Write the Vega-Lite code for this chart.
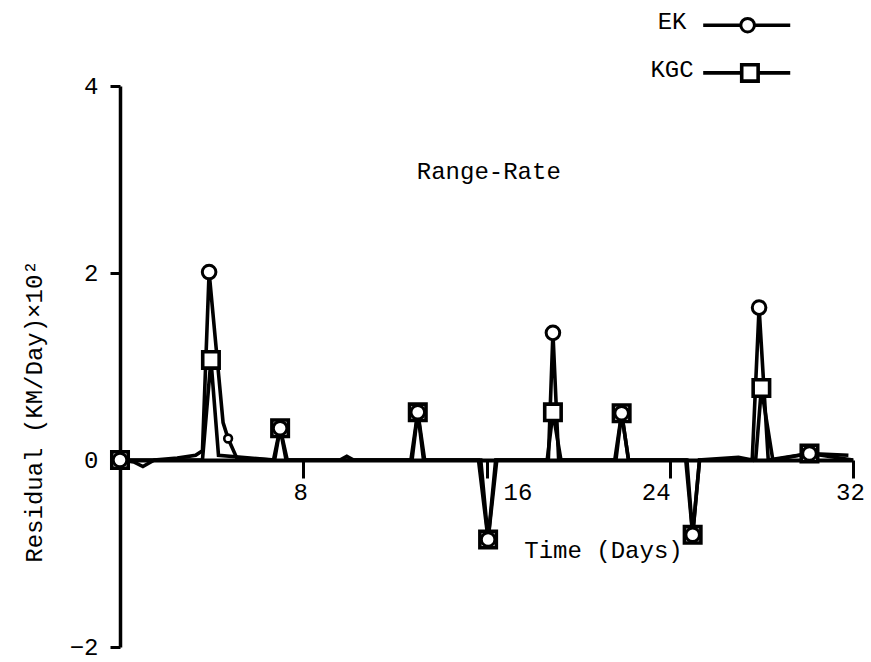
{
  "$schema": "https://vega.github.io/schema/vega-lite/v6.json",
  "width": 733,
  "height": 561,
  "autosize": {"type": "none"},
  "padding": {"left": 120, "top": 86, "right": 18, "bottom": 15},
  "background": "white",
  "config": {
    "font": "Liberation Mono",
    "view": {"stroke": null},
    "axis": {"grid": false, "domainColor": "black", "tickColor": "black", "labelColor": "black", "titleColor": "black", "labelFont": "Liberation Mono", "titleFont": "Liberation Mono", "labelFontSize": 24, "titleFontSize": 24, "titleFontWeight": "normal"}
  },
  "datasets": {
    "lines": [
      {"series": "EK", "day": 0, "residual": 0},
      {"series": "EK", "day": 0.6, "residual": -0.02},
      {"series": "EK", "day": 1.0, "residual": -0.07},
      {"series": "EK", "day": 1.5, "residual": 0},
      {"series": "EK", "day": 2.5, "residual": 0.02},
      {"series": "EK", "day": 3.3, "residual": 0.05},
      {"series": "EK", "day": 3.6, "residual": 0.1},
      {"series": "EK", "day": 3.89, "residual": 2.01},
      {"series": "EK", "day": 4.5, "residual": 0.4},
      {"series": "EK", "day": 4.72, "residual": 0.23},
      {"series": "EK", "day": 5.1, "residual": 0.02},
      {"series": "EK", "day": 6.7, "residual": 0},
      {"series": "EK", "day": 6.99, "residual": 0.34},
      {"series": "EK", "day": 7.3, "residual": 0},
      {"series": "EK", "day": 9.6, "residual": 0},
      {"series": "EK", "day": 9.9, "residual": 0.04},
      {"series": "EK", "day": 10.2, "residual": 0},
      {"series": "EK", "day": 12.7, "residual": 0},
      {"series": "EK", "day": 13.0, "residual": 0.51},
      {"series": "EK", "day": 13.3, "residual": 0},
      {"series": "EK", "day": 15.75, "residual": 0},
      {"series": "EK", "day": 16.07, "residual": -0.85},
      {"series": "EK", "day": 16.4, "residual": 0},
      {"series": "EK", "day": 18.7, "residual": 0},
      {"series": "EK", "day": 18.9, "residual": 1.36},
      {"series": "EK", "day": 19.15, "residual": 0},
      {"series": "EK", "day": 21.65, "residual": 0},
      {"series": "EK", "day": 21.9, "residual": 0.5},
      {"series": "EK", "day": 22.2, "residual": 0},
      {"series": "EK", "day": 24.75, "residual": 0},
      {"series": "EK", "day": 25.0, "residual": -0.8},
      {"series": "EK", "day": 25.3, "residual": 0},
      {"series": "EK", "day": 27.0, "residual": 0.03},
      {"series": "EK", "day": 27.6, "residual": 0},
      {"series": "EK", "day": 27.9, "residual": 1.63},
      {"series": "EK", "day": 28.3, "residual": 0},
      {"series": "EK", "day": 30.1, "residual": 0.07},
      {"series": "EK", "day": 31.8, "residual": 0.05},
      {"series": "KGC", "day": 0, "residual": 0},
      {"series": "KGC", "day": 2.0, "residual": 0},
      {"series": "KGC", "day": 3.6, "residual": 0},
      {"series": "KGC", "day": 3.97, "residual": 1.07},
      {"series": "KGC", "day": 4.3, "residual": 0.05},
      {"series": "KGC", "day": 6.75, "residual": 0},
      {"series": "KGC", "day": 6.99, "residual": 0.34},
      {"series": "KGC", "day": 7.25, "residual": 0},
      {"series": "KGC", "day": 12.75, "residual": 0},
      {"series": "KGC", "day": 13.0, "residual": 0.51},
      {"series": "KGC", "day": 13.25, "residual": 0},
      {"series": "KGC", "day": 15.65, "residual": 0},
      {"series": "KGC", "day": 16.07, "residual": -0.85},
      {"series": "KGC", "day": 16.45, "residual": 0},
      {"series": "KGC", "day": 18.65, "residual": 0},
      {"series": "KGC", "day": 18.9, "residual": 0.51},
      {"series": "KGC", "day": 19.25, "residual": 0},
      {"series": "KGC", "day": 21.6, "residual": 0},
      {"series": "KGC", "day": 21.9, "residual": 0.5},
      {"series": "KGC", "day": 22.2, "residual": 0},
      {"series": "KGC", "day": 24.7, "residual": 0},
      {"series": "KGC", "day": 25.0, "residual": -0.8},
      {"series": "KGC", "day": 25.3, "residual": 0},
      {"series": "KGC", "day": 27.75, "residual": 0},
      {"series": "KGC", "day": 28.0, "residual": 0.77},
      {"series": "KGC", "day": 28.5, "residual": 0},
      {"series": "KGC", "day": 30.1, "residual": 0.07},
      {"series": "KGC", "day": 32, "residual": 0},
      {"series": "EK legend", "day": 25.46, "residual": 4.65},
      {"series": "EK legend", "day": 29.26, "residual": 4.65},
      {"series": "KGC legend", "day": 25.46, "residual": 4.14},
      {"series": "KGC legend", "day": 29.26, "residual": 4.14}
    ],
    "markers": [
      {"series": "KGC", "day": 0, "residual": 0},
      {"series": "KGC", "day": 3.97, "residual": 1.07},
      {"series": "KGC", "day": 6.99, "residual": 0.34},
      {"series": "KGC", "day": 13.0, "residual": 0.51},
      {"series": "KGC", "day": 16.07, "residual": -0.85},
      {"series": "KGC", "day": 18.9, "residual": 0.51},
      {"series": "KGC", "day": 21.9, "residual": 0.5},
      {"series": "KGC", "day": 25.0, "residual": -0.8},
      {"series": "KGC", "day": 28.0, "residual": 0.77},
      {"series": "KGC", "day": 30.1, "residual": 0.07},
      {"series": "KGC", "day": 27.5, "residual": 4.14},
      {"series": "EK", "day": 0, "residual": 0},
      {"series": "EK", "day": 3.89, "residual": 2.01},
      {"series": "EK", "day": 6.99, "residual": 0.34},
      {"series": "EK", "day": 13.0, "residual": 0.51},
      {"series": "EK", "day": 16.07, "residual": -0.85},
      {"series": "EK", "day": 18.9, "residual": 1.36},
      {"series": "EK", "day": 21.9, "residual": 0.5},
      {"series": "EK", "day": 25.0, "residual": -0.8},
      {"series": "EK", "day": 27.9, "residual": 1.63},
      {"series": "EK", "day": 30.1, "residual": 0.07},
      {"series": "EK", "day": 27.4, "residual": 4.65}
    ],
    "minor": [
      {"series": "EK", "day": 4.72, "residual": 0.23}
    ],
    "notes": [
      {"text": "Range-Rate", "day": 16.1, "residual": 3.08, "anchor": "center"},
      {"text": "EK", "day": 24.1, "residual": 4.68, "anchor": "right"},
      {"text": "KGC", "day": 24.1, "residual": 4.17, "anchor": "right"}
    ]
  },
  "layer": [
    {
      "data": {"name": "lines"},
      "mark": {"type": "line", "color": "black", "strokeWidth": 3.6, "interpolate": "linear"},
      "encoding": {
        "x": {"field": "day", "type": "quantitative", "scale": {"domain": [0, 32], "nice": false, "zero": false},
          "axis": {"orient": "bottom", "offset": -187, "values": [8, 16, 24, 32], "format": "d", "tickSize": 18, "tickWidth": 3, "domainWidth": 4, "labelPadding": 2, "labelFlush": false,
            "labelOffset": {"condition": [{"test": "datum.value === 16", "value": 31}, {"test": "datum.value === 24", "value": -14}], "value": -3},
            "title": "Time (Days)", "titleX": 483, "titleY": 90, "titleAlign": "center", "titleBaseline": "middle", "titleAnchor": null}},
        "y": {"field": "residual", "type": "quantitative", "scale": {"domain": [-2, 4], "nice": false, "zero": false},
          "axis": {"values": [-2, 0, 2, 4], "format": "d", "tickSize": 10, "tickWidth": 3, "domainWidth": 3.5, "labelPadding": 12, "labelFlush": false, "title": "Residual (KM/Day)×10²", "titleX": -86, "titleY": 325, "titleAngle": -90, "titleAlign": "center", "titleBaseline": "middle", "titleAnchor": null}},
        "detail": {"field": "series"}
      }
    },
    {
      "data": {"name": "markers"},
      "transform": [{"filter": "datum.series === 'KGC'"}],
      "mark": {"type": "point", "shape": "square", "size": 270, "filled": true, "fill": "white", "stroke": "black", "strokeWidth": 3.6, "opacity": 1},
      "encoding": {
        "x": {"field": "day", "type": "quantitative"},
        "y": {"field": "residual", "type": "quantitative"}
      }
    },
    {
      "data": {"name": "markers"},
      "transform": [{"filter": "datum.series === 'EK'"}],
      "mark": {"type": "point", "shape": "circle", "size": 185, "filled": true, "fill": "white", "stroke": "black", "strokeWidth": 3, "opacity": 1},
      "encoding": {
        "x": {"field": "day", "type": "quantitative"},
        "y": {"field": "residual", "type": "quantitative"}
      }
    },
    {
      "data": {"name": "minor"},
      "mark": {"type": "point", "shape": "circle", "size": 60, "filled": true, "fill": "white", "stroke": "black", "strokeWidth": 2.6, "opacity": 1},
      "encoding": {
        "x": {"field": "day", "type": "quantitative"},
        "y": {"field": "residual", "type": "quantitative"}
      }
    },
    {
      "data": {"name": "notes"},
      "mark": {"type": "text", "font": "Liberation Mono", "fontSize": 24, "color": "black", "baseline": "middle"},
      "encoding": {
        "x": {"field": "day", "type": "quantitative"},
        "y": {"field": "residual", "type": "quantitative"},
        "text": {"field": "text"},
        "align": {"field": "anchor", "type": "nominal", "scale": null}
      }
    }
  ]
}
